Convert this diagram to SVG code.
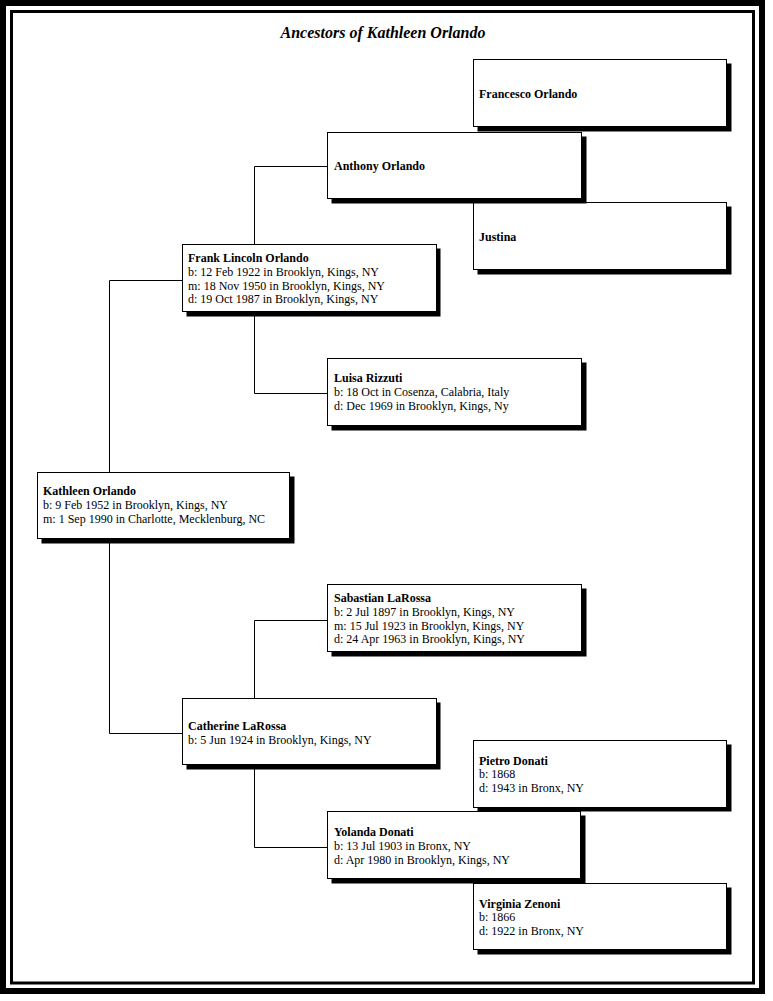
<svg xmlns="http://www.w3.org/2000/svg" width="773" height="1001" viewBox="0 0 773 1001">
<style>
.frame{fill:none;stroke:#000}
.box{fill:#fff;stroke:#000;stroke-width:1}
.sh{fill:#000}
.ln{fill:none;stroke:#000;stroke-width:1}
text{font-family:"Liberation Serif","Times New Roman",serif;font-size:12px;fill:#000}
.nm{font-weight:bold}
.title{font-size:16px;font-weight:bold;font-style:italic}
</style>
<rect width="773" height="1001" fill="#fff"/>
<rect class="frame" x="3" y="3" width="759" height="988" stroke-width="6"/>
<rect class="frame" x="11.5" y="11.5" width="742" height="971.5" stroke-width="3"/>
<text class="title" x="383" y="38" text-anchor="middle">Ancestors of Kathleen Orlando</text>

<g id="connectors">
<polyline class="ln" points="254.5,244 254.5,166.5 327,166.5"/>
<polyline class="ln" points="254.5,311 254.5,393.5 327,393.5"/>
<polyline class="ln" points="109.5,472 109.5,280.5 182,280.5"/>
<polyline class="ln" points="109.5,538 109.5,733.5 182,733.5"/>
<polyline class="ln" points="254.5,698 254.5,620.5 327,620.5"/>
<polyline class="ln" points="254.5,765 254.5,847.5 327,847.5"/>
</g>

<g id="francesco">
<rect class="sh" x="477.5" y="63.5" width="254" height="68"/>
<rect class="box" x="473.5" y="59.5" width="253" height="67"/>
<text class="nm" x="479" y="98">Francesco Orlando</text>
</g>
<g id="justina">
<rect class="sh" x="477.5" y="206.5" width="254" height="68"/>
<rect class="box" x="473.5" y="202.5" width="253" height="67"/>
<text class="nm" x="479" y="241">Justina</text>
</g>
<g id="anthony">
<rect class="sh" x="331.5" y="136.5" width="255" height="67"/>
<rect class="box" x="327.5" y="132.5" width="254" height="66"/>
<text class="nm" x="334" y="170">Anthony Orlando</text>
</g>
<g id="frank">
<rect class="sh" x="186.5" y="248.5" width="254" height="68"/>
<rect class="box" x="182.5" y="244.5" width="254" height="67"/>
<text class="nm" x="188" y="262">Frank Lincoln Orlando</text>
<text x="188" y="276">b: 12 Feb 1922 in Brooklyn, Kings, NY</text>
<text x="188" y="290">m: 18 Nov 1950 in Brooklyn, Kings, NY</text>
<text x="188" y="303">d: 19 Oct 1987 in Brooklyn, Kings, NY</text>
</g>
<g id="luisa">
<rect class="sh" x="331.5" y="362.5" width="255" height="68"/>
<rect class="box" x="327.5" y="358.5" width="254" height="67"/>
<text class="nm" x="334" y="382">Luisa Rizzuti</text>
<text x="334" y="396">b: 18 Oct in Cosenza, Calabria, Italy</text>
<text x="334" y="410">d: Dec 1969 in Brooklyn, Kings, Ny</text>
</g>
<g id="kathleen">
<rect class="sh" x="41.5" y="476.5" width="253" height="67"/>
<rect class="box" x="37.5" y="472.5" width="252" height="66"/>
<text class="nm" x="43" y="495">Kathleen Orlando</text>
<text x="43" y="509">b: 9 Feb 1952 in Brooklyn, Kings, NY</text>
<text x="43" y="523">m: 1 Sep 1990 in Charlotte, Mecklenburg, NC</text>
</g>
<g id="sabastian">
<rect class="sh" x="331.5" y="588.5" width="255" height="68"/>
<rect class="box" x="327.5" y="584.5" width="254" height="67"/>
<text class="nm" x="334" y="602">Sabastian LaRossa</text>
<text x="334" y="616">b: 2 Jul 1897 in Brooklyn, Kings, NY</text>
<text x="334" y="630">m: 15 Jul 1923 in Brooklyn, Kings, NY</text>
<text x="334" y="643">d: 24 Apr 1963 in Brooklyn, Kings, NY</text>
</g>
<g id="catherine">
<rect class="sh" x="186.5" y="702.5" width="254" height="67"/>
<rect class="box" x="182.5" y="698.5" width="254" height="66"/>
<text class="nm" x="188" y="730">Catherine LaRossa</text>
<text x="188" y="744">b: 5 Jun 1924 in Brooklyn, Kings, NY</text>
</g>
<g id="pietro">
<rect class="sh" x="477.5" y="744.5" width="254" height="67"/>
<rect class="box" x="473.5" y="740.5" width="253" height="67"/>
<text class="nm" x="479" y="765">Pietro Donati</text>
<text x="479" y="778">b: 1868</text>
<text x="479" y="792">d: 1943 in Bronx, NY</text>
</g>
<g id="yolanda">
<rect class="sh" x="331.5" y="815.5" width="254" height="68"/>
<rect class="box" x="327.5" y="811.5" width="253" height="67"/>
<text class="nm" x="334" y="836">Yolanda Donati</text>
<text x="334" y="850">b: 13 Jul 1903 in Bronx, NY</text>
<text x="334" y="864">d: Apr 1980 in Brooklyn, Kings, NY</text>
</g>
<g id="virginia">
<rect class="sh" x="477.5" y="887.5" width="254" height="67"/>
<rect class="box" x="473.5" y="883.5" width="253" height="66"/>
<text class="nm" x="479" y="908">Virginia Zenoni</text>
<text x="479" y="921">b: 1866</text>
<text x="479" y="935">d: 1922 in Bronx, NY</text>
</g>
</svg>
